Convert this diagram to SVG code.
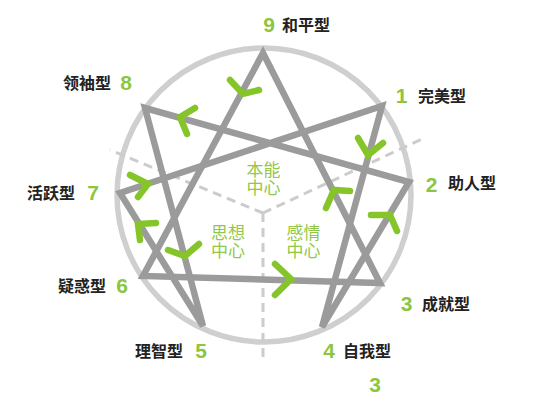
<svg xmlns="http://www.w3.org/2000/svg" width="550" height="412" viewBox="0 0 550 412">
<style>
.num{font-family:"Liberation Sans",Arial,sans-serif;font-weight:bold;font-size:21px;fill:#8cc63f;text-anchor:middle}
.lbl{font-family:"Noto Sans CJK SC","Noto Sans",sans-serif;font-weight:bold;font-size:16px;fill:#222}
.ctr{font-family:"Noto Sans CJK SC","Noto Sans",sans-serif;font-size:17px;fill:#92c84a;text-anchor:middle}
.ring{fill:none;stroke:#cfcfcf;stroke-width:5.5}
.dash{fill:none;stroke:#cccccc;stroke-width:3;stroke-dasharray:9 6}
.star{fill:none;stroke:#9b9b9b;stroke-width:6.5;stroke-linejoin:miter}
.chev{fill:none;stroke:#86c52a;stroke-width:6.5;stroke-linecap:round;stroke-linejoin:miter}
</style>
<rect width="550" height="412" fill="#ffffff"/>
<circle class="ring" cx="264" cy="195" r="147"/>
<g id="centers-dividers">
<line class="dash" x1="263" y1="213" x2="110" y2="150"/>
<line class="dash" x1="263" y1="213" x2="424" y2="138"/>
<line class="dash" x1="263" y1="213" x2="263" y2="362"/>
</g>
<g id="connectors">
<polygon class="star" points="263,53 380,283 143,276"/>
<polygon class="star" points="382,106 322,327 409,182 145,108 203,326 120,193"/>
</g>
<g id="arrows">
<polyline class="chev" points="230,80 243,94 259,90"/>
<polyline class="chev" points="195,108 180,117 187,134"/>
<polyline class="chev" points="130,175 148,184 138,197"/>
<polyline class="chev" points="156,223 138,224 140,240"/>
<polyline class="chev" points="168,250 185,256 199,244"/>
<polyline class="chev" points="275,264 291,279 275,295"/>
<polyline class="chev" points="350,191 334,190 326,208"/>
<polyline class="chev" points="358,138 368,155 383,143"/>
<polyline class="chev" points="371,215 390,215 397,231"/>
</g>
<g id="center-instinct"><text class="ctr" x="263.5" y="176">本能<tspan x="263.5" dy="18">中心</tspan></text></g>
<g id="center-thinking"><text class="ctr" x="228" y="239">思想<tspan x="228" dy="18">中心</tspan></text></g>
<g id="center-feeling"><text class="ctr" x="303.5" y="239">感情<tspan x="303.5" dy="18">中心</tspan></text></g>
<g id="type9"><text class="num" x="269" y="32">9</text><text class="lbl" x="282" y="31">和平型</text></g>
<g id="type1"><text class="num" x="401.5" y="103">1</text><text class="lbl" x="418" y="102">完美型</text></g>
<g id="type2"><text class="num" x="431.5" y="192">2</text><text class="lbl" x="448" y="189">助人型</text></g>
<g id="type3"><text class="num" x="406.5" y="311">3</text><text class="lbl" x="422" y="310">成就型</text></g>
<g id="type4"><text class="num" x="329" y="358">4</text><text class="lbl" x="343" y="357">自我型</text></g>
<g id="type5"><text class="num" x="201" y="358">5</text><text class="lbl" x="135" y="357">理智型</text></g>
<g id="type6"><text class="num" x="122" y="293">6</text><text class="lbl" x="58" y="292">疑惑型</text></g>
<g id="type7"><text class="num" x="93" y="200">7</text><text class="lbl" x="27" y="199">活跃型</text></g>
<g id="type8"><text class="num" x="126" y="90">8</text><text class="lbl" x="63" y="89">领袖型</text></g>
<g id="extra-3"><text class="num" x="375" y="392">3</text></g>
</svg>
